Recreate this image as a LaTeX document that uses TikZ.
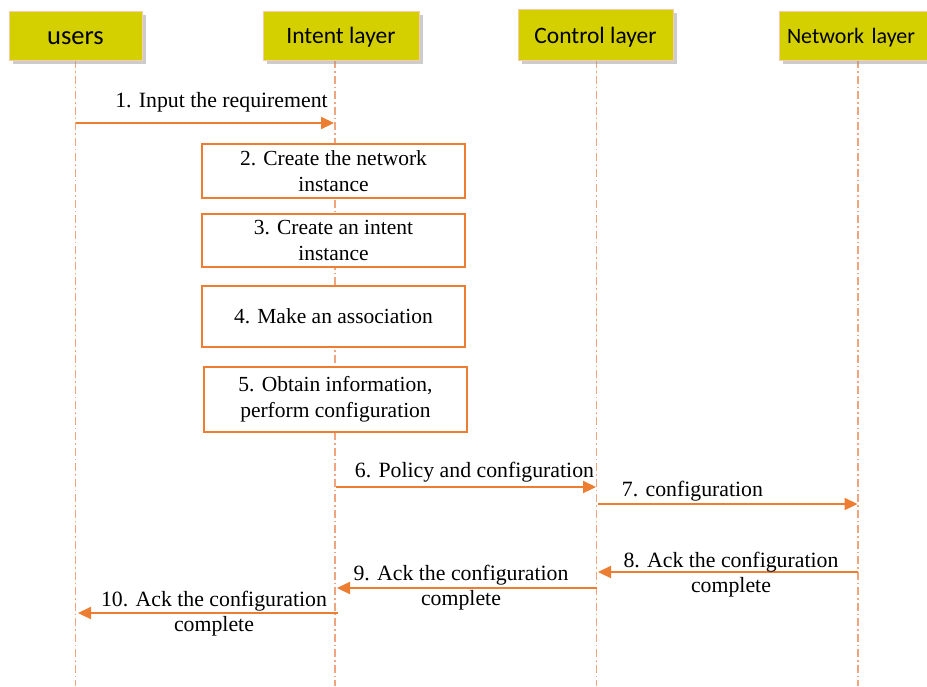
\documentclass[tikz,border=0pt]{standalone}
\usepackage{fontspec}
\setmainfont{Liberation Serif}
\newfontfamily\hdrfont{Carlito}
\usetikzlibrary{arrows.meta,shadows}
\definecolor{arr}{HTML}{ED7D31}
\definecolor{life}{HTML}{EFA57E}
\definecolor{hdr}{HTML}{D4D000}
\definecolor{hdrline}{HTML}{F8CBAD}
\begin{document}
\begin{tikzpicture}[x=1pt,y=-1pt,
  header/.style={draw=hdrline, line width=0.8pt, fill=hdr, inner sep=0pt,
    drop shadow={shadow xshift=3.5pt, shadow yshift=-3.5pt, fill=black!40, opacity=0.5},
    text height=16pt, text depth=0pt},
  lifeline/.style={draw=life, line width=1.1pt, dash pattern=on 8pt off 3pt on 1.5pt off 3pt},
  stepbox/.style={draw=arr, line width=1.8pt, fill=white, inner sep=0pt, align=center,
    minimum width=263pt, font=\fontsize{21.5}{26}\selectfont},
  msg/.style={draw=arr, line width=2.2pt, -{Triangle[length=13pt,width=12pt]}},
  lbl/.style={inner sep=0pt, align=center, font=\fontsize{21.8}{25}\selectfont}]
\useasboundingbox (0,0) rectangle (927,686);

% lifelines
\coordinate (uT) at (75.5,60);  \coordinate (uB) at (75.5,686);
\coordinate (iT) at (335,60);   \coordinate (iB) at (335,686);
\coordinate (cT) at (596.5,60); \coordinate (cB) at (596.5,686);
\coordinate (nT) at (858,60);   \coordinate (nB) at (858,686);
\draw[lifeline] (uT) -- (uB);
\draw[lifeline] (iT) -- (iB);
\draw[lifeline] (cT) -- (cB);
\draw[lifeline] (nT) -- (nB);

% headers
\node[header, minimum width=133pt, minimum height=49pt, font=\hdrfont\fontsize{26.5}{30}\selectfont, text height=17pt] (hu) at (75.5,35.5) {users};
\node[header, minimum width=156pt, minimum height=49pt, font=\hdrfont\fontsize{23.5}{28}\selectfont, text height=15pt] (hi) at (341,35.5) {Intent layer};
\node[header, minimum width=155pt, minimum height=51pt, font=\hdrfont\fontsize{23.5}{28}\selectfont, text height=17pt] (hc) at (595.5,34.5) {Control layer};
\node[header, minimum width=160pt, minimum height=49pt, font=\hdrfont\fontsize{22}{26}\selectfont, text height=15pt, text width=144pt, align=left] (hn) at (859,35.5) {Network layer};

% step boxes
\node[stepbox, minimum height=54pt] (b2) at (333.5,171) {2. Create the network\\instance};
\node[stepbox, minimum height=53pt] (b3) at (333.5,240.5) {3. Create an intent\\instance};
\node[stepbox, minimum height=61pt] (b4) at (333.5,316.5) {4. Make an association};
\node[stepbox, minimum height=65pt] (b5) at (335.5,399.5) {5. Obtain information,\\perform configuration};

% message end points
\coordinate (m1s) at (75.5,123);  \coordinate (m1e) at (334,123);
\coordinate (m6s) at (336,487);   \coordinate (m6e) at (596,487);
\coordinate (m7s) at (598,504);   \coordinate (m7e) at (857.5,504);
\coordinate (m8s) at (858,572);   \coordinate (m8e) at (598,572);
\coordinate (m9s) at (597,588);   \coordinate (m9e) at (337,588);
\coordinate (m10s) at (338,613); \coordinate (m10e) at (78,613);

\draw[msg] (m1s) -- (m1e);
\draw[msg] (m6s) -- (m6e);
\draw[msg] (m7s) -- (m7e);
\draw[msg] (m8s) -- (m8e);
\draw[msg] (m9s) -- (m9e);
\draw[msg] (m10s) -- (m10e);

% labels
\node[lbl, anchor=base] (l1) at (221.5,107) {1. Input the requirement};
\node[lbl, anchor=base] (l6) at (474.5,477) {6. Policy and configuration};
\node[lbl, anchor=base] (l7) at (692.5,496) {7. configuration};
\node[lbl] (l8) at (731,574.5) {8. Ack the configuration\\complete};
\node[lbl] (l9) at (461,587.5) {9. Ack the configuration\\complete};
\node[lbl] (l10) at (214,613.5) {10. Ack the configuration\\complete};
\end{tikzpicture}
\end{document}
